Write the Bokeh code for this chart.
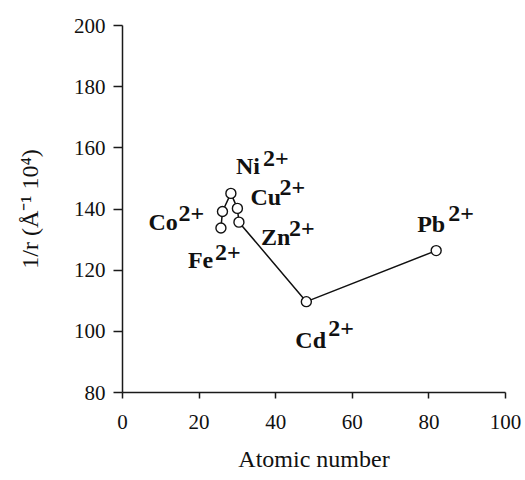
from bokeh.plotting import figure
from bokeh.models import Range1d, FixedTicker, ColumnDataSource
from bokeh.core.properties import value
from bokeh.embed import file_html
from bokeh.resources import INLINE

# data
ions = ["Fe", "Co", "Ni", "Cu", "Zn", "Cd", "Pb"]
charges = ["2+", "2+", "2+", "2+", "2+", "2+", "2+"]
atomic_number = [25.7, 26.1, 28.3, 30.0, 30.4, 48.0, 81.9]
inv_r = [133.8, 139.2, 145.1, 140.2, 135.7, 109.7, 126.4]
x_ticks = [0, 20, 40, 60, 80, 100]
y_ticks = [80, 100, 120, 140, 160, 180, 200]

# label placement (screen pixels relative to each point)
main_dx = [-33, -74, 5, 13, 22, -11, -19]
main_dy = [32, 11, -27, -11, 15, 38, -27]
sup_dx = [-6, -44, 32, 42, 50, 22, 12]
sup_dy = [25, 2, -35, -21, 6, 27, -37]

src = ColumnDataSource(dict(x=atomic_number, y=inv_r, ion=ions, ch=charges,
                            mdx=main_dx, mdy=main_dy, sdx=sup_dx, sdy=sup_dy))

p = figure(width=525, height=480, output_backend="svg", toolbar_location=None,
           x_range=Range1d(0, 100), y_range=Range1d(80, 200),
           min_border_left=122, min_border_right=20, min_border_top=25, min_border_bottom=88)
p.background_fill_color = "white"
p.border_fill_color = "white"
p.outline_line_color = None
p.xgrid.grid_line_color = None
p.ygrid.grid_line_color = None

serif = "Liberation Serif"
for ax in (p.xaxis, p.yaxis):
    ax.axis_line_color = "#1a1a1a"
    ax.axis_line_width = 1.5
    ax.major_tick_line_color = "#1a1a1a"
    ax.major_tick_line_width = 1.5
    ax.major_tick_in = 0
    ax.minor_tick_line_color = None
    ax.major_label_text_font = serif
    ax.major_label_text_font_size = "21px"
    ax.major_label_text_color = "#111111"
    ax.axis_label_text_font = serif
    ax.axis_label_text_font_size = "24px"
    ax.axis_label_text_font_style = "normal"
    ax.axis_label_text_color = "#111111"

p.xaxis.ticker = FixedTicker(ticks=x_ticks)
p.yaxis.ticker = FixedTicker(ticks=y_ticks)
p.xaxis.major_tick_out = 6
p.yaxis.major_tick_out = 9
p.xaxis.major_label_standoff = 16
p.yaxis.major_label_standoff = 8
p.xaxis.axis_label = "Atomic number"
p.yaxis.axis_label = "1/r (Å⁻¹ 10⁴)"
p.xaxis.axis_label_standoff = 14
p.yaxis.axis_label_standoff = 28

p.line("x", "y", source=src, line_color="#111111", line_width=1.5)
p.scatter("x", "y", source=src, size=10, marker="circle", fill_color="white",
          line_color="#111111", line_width=1.4)

p.text("x", "y", text="ion", source=src, x_offset="mdx", y_offset="mdy",
       text_font=value(serif), text_font_style="bold", text_font_size="24px",
       text_align="left", text_baseline="alphabetic", text_color="#111111")
p.text("x", "y", text="ch", source=src, x_offset="sdx", y_offset="sdy",
       text_font=value(serif), text_font_style="bold", text_font_size="24px",
       text_align="left", text_baseline="alphabetic", text_color="#111111")

open("out.html", "w").write(file_html(p, INLINE))
